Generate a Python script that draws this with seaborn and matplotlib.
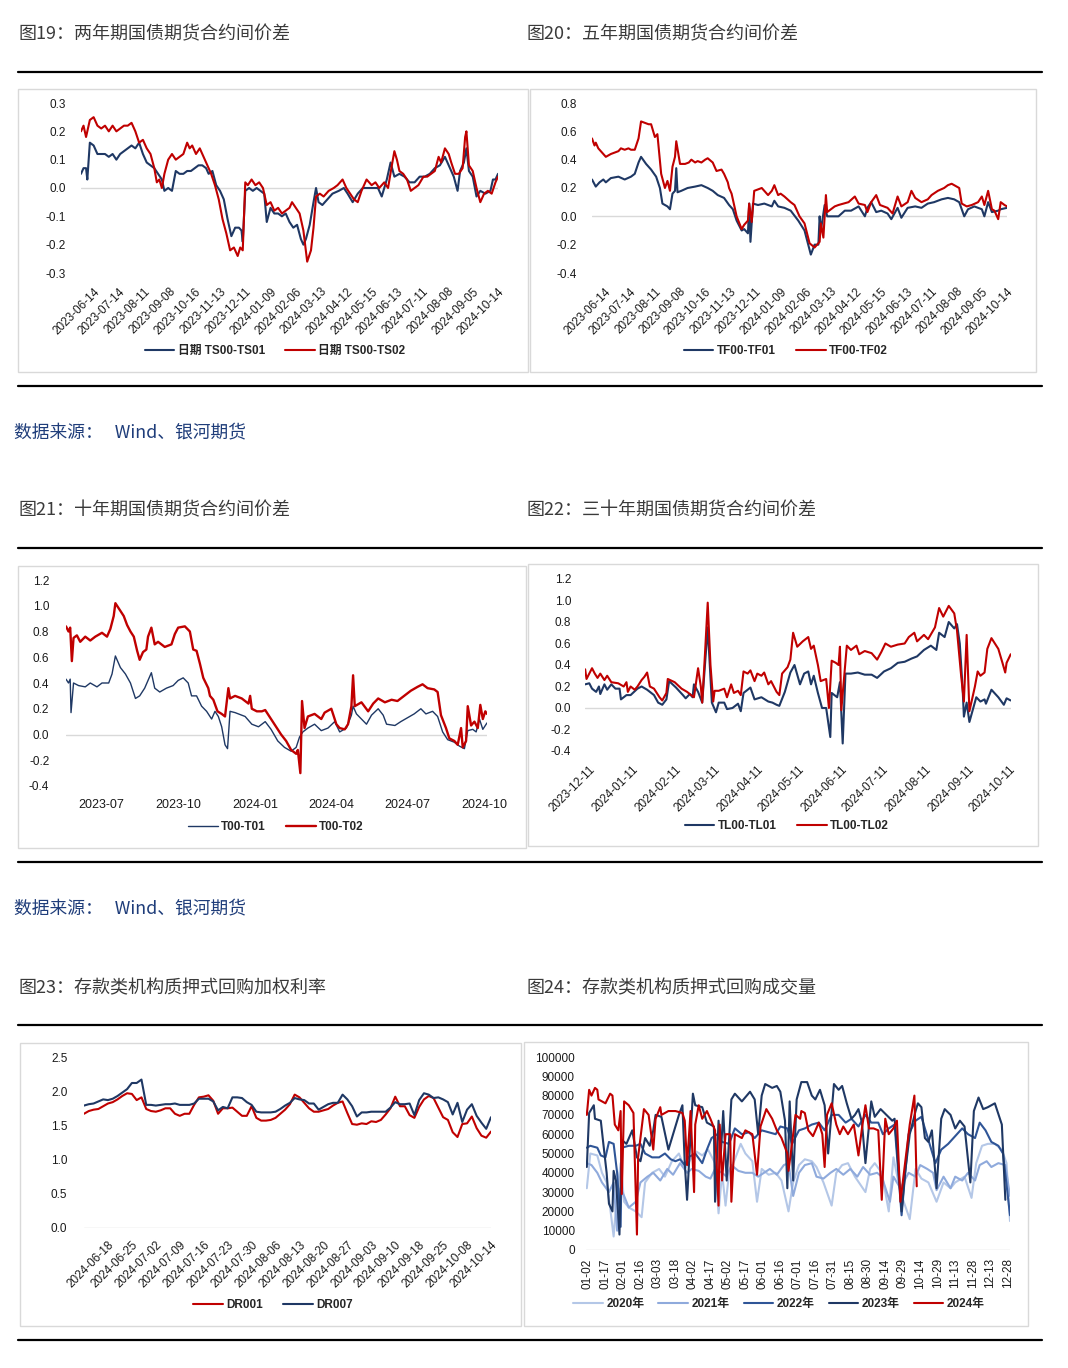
import matplotlib
matplotlib.use('Agg')
import matplotlib.pyplot as plt
from matplotlib.patches import Rectangle
from matplotlib.lines import Line2D
import seaborn as sns
import pandas as pd

W, H = 1068, 1368

# ---------------- data ----------------
# 图19 two-year spread, x = trading day index
ts_tick_labels = ['2023-06-14', '2023-07-14', '2023-08-11', '2023-09-08', '2023-10-16', '2023-11-13',
                  '2023-12-11', '2024-01-09', '2024-02-06', '2024-03-13', '2024-04-12', '2024-05-15',
                  '2024-06-13', '2024-07-11', '2024-08-08', '2024-09-05', '2024-10-14']
ts01_day = [0, 2, 4, 5, 7, 10, 13, 16, 19, 22,
            25, 28, 31, 34, 37, 40, 43, 46, 49, 52,
            55, 58, 61, 64, 66, 69, 72, 75, 78, 81,
            84, 87, 90, 93, 96, 99, 101, 104, 107, 110,
            113, 116, 119, 122, 125, 127, 128, 130, 133, 136,
            139, 142, 145, 147, 150, 153, 156, 159, 162, 165,
            168, 171, 174, 176, 178, 181, 184, 186, 188, 191,
            195, 199, 204, 208, 211, 215, 219, 223, 227, 231,
            235, 238, 242, 245, 248, 252, 256, 260, 264, 268,
            272, 276, 280, 284, 288, 291, 295, 298, 300, 303,
            305, 307, 310, 313, 316, 320, 324, 326, 328, 330]
ts01_val = [0.05, 0.07, 0.07, 0.03, 0.16, 0.15, 0.12, 0.12, 0.12, 0.11,
            0.12, 0.10, 0.12, 0.13, 0.14, 0.15, 0.14, 0.16, 0.12, 0.09,
            0.08, 0.07, 0.05, 0.03, -0.01, 0.00, -0.01, 0.06, 0.05, 0.05,
            0.06, 0.06, 0.07, 0.08, 0.08, 0.07, 0.05, 0.06, 0.01, -0.01,
            -0.04, -0.11, -0.17, -0.14, -0.14, -0.15, -0.19, -0.01, 0.00, -0.01,
            0.00, -0.01, -0.02, -0.12, -0.07, -0.09, -0.09, -0.10, -0.09, -0.12,
            -0.14, -0.13, -0.18, -0.20, -0.18, -0.13, -0.05, 0.00, -0.05, -0.06,
            -0.04, -0.02, -0.01, 0.00, -0.02, -0.05, -0.02, 0.00, 0.00, 0.00,
            0.00, -0.03, 0.03, 0.09, 0.04, 0.05, 0.04, 0.02, 0.02, 0.04,
            0.04, 0.05, 0.07, 0.08, 0.11, 0.08, 0.04, -0.01, 0.06, 0.09,
            0.14, 0.06, 0.04, -0.03, -0.01, -0.02, -0.01, 0.03, 0.03, 0.05]
ts02_day = [0, 2, 4, 7, 10, 13, 16, 19, 22, 25,
            28, 31, 34, 37, 40, 43, 46, 49, 52, 55,
            58, 60, 62, 64, 66, 69, 72, 75, 78, 81,
            84, 86, 88, 91, 94, 97, 100, 103, 106, 109,
            112, 115, 118, 121, 124, 126, 128, 130, 132, 135,
            138, 141, 144, 147, 150, 153, 156, 159, 162, 165,
            167, 170, 173, 176, 179, 182, 184, 186, 189, 192,
            196, 200, 203, 207, 210, 213, 216, 219, 222, 226,
            230, 233, 236, 240, 243, 246, 248, 250, 252, 255,
            258, 261, 264, 267, 271, 274, 277, 280, 283, 285,
            288, 291, 293, 296, 299, 302, 304, 305, 307, 310,
            313, 316, 319, 322, 325, 328, 330]
ts02_val = [0.20, 0.22, 0.18, 0.24, 0.25, 0.22, 0.21, 0.22, 0.20, 0.22,
            0.20, 0.21, 0.22, 0.22, 0.23, 0.20, 0.16, 0.17, 0.14, 0.12,
            0.07, 0.02, 0.03, 0.00, 0.05, 0.10, 0.12, 0.10, 0.11, 0.12,
            0.16, 0.14, 0.15, 0.12, 0.14, 0.11, 0.08, 0.05, 0.01, -0.04,
            -0.11, -0.16, -0.22, -0.21, -0.24, -0.21, -0.22, 0.02, 0.01, 0.03,
            0.01, 0.02, 0.00, -0.06, -0.05, -0.08, -0.07, -0.09, -0.08, -0.07,
            -0.05, -0.07, -0.09, -0.15, -0.26, -0.22, -0.14, -0.03, -0.02, -0.03,
            -0.01, 0.00, 0.01, 0.03, 0.00, -0.02, -0.04, -0.05, -0.01, 0.03,
            0.01, 0.02, 0.00, 0.02, 0.00, 0.08, 0.13, 0.10, 0.06, 0.05,
            0.03, -0.01, 0.00, 0.01, 0.04, 0.04, 0.05, 0.06, 0.11, 0.09,
            0.14, 0.12, 0.09, 0.05, 0.05, 0.07, 0.18, 0.20, 0.08, 0.06,
            0.00, -0.05, -0.02, -0.01, -0.02, 0.02, 0.04]

# 图20 five-year spread
tf_tick_labels = ts_tick_labels
tf01_day = [0, 3, 6, 9, 11, 15, 21, 26, 31, 34,
            37, 39, 43, 47, 51, 54, 56, 60, 62, 64,
            66, 67, 68, 71, 76, 82, 87, 92, 96, 100,
            105, 109, 112, 115, 119, 121, 124, 125, 126, 128,
            132, 137, 143, 145, 148, 153, 158, 164, 169, 174,
            177, 180, 181, 182, 185, 187, 190, 196, 201, 206,
            212, 217, 219, 222, 226, 230, 235, 238, 243, 246,
            251, 257, 262, 267, 272, 278, 283, 288, 292, 296,
            299, 304, 310, 312, 315, 318, 323, 325, 330]
tf01_val = [0.26, 0.21, 0.24, 0.26, 0.24, 0.27, 0.28, 0.26, 0.28, 0.30,
            0.38, 0.42, 0.37, 0.33, 0.28, 0.20, 0.09, 0.07, 0.05, 0.16,
            0.18, 0.34, 0.17, 0.18, 0.20, 0.21, 0.22, 0.20, 0.18, 0.15,
            0.13, 0.08, 0.05, -0.03, -0.10, -0.09, -0.12, 0.09, -0.18, 0.09,
            0.08, 0.09, 0.07, 0.11, 0.07, 0.06, 0.04, -0.03, -0.10, -0.27,
            -0.20, -0.20, 0.00, -0.10, 0.08, 0.00, 0.00, 0.00, 0.04, 0.04,
            0.07, 0.00, 0.06, 0.10, 0.03, 0.04, 0.02, -0.02, 0.06, -0.01,
            0.06, 0.07, 0.06, 0.09, 0.10, 0.12, 0.13, 0.12, 0.10, 0.00,
            0.05, 0.07, 0.05, 0.00, 0.10, 0.03, 0.04, 0.05, 0.06]
tf02_day = [0, 2, 3, 5, 7, 9, 11, 15, 18, 21,
            23, 26, 29, 31, 34, 37, 39, 42, 45, 47,
            50, 52, 55, 58, 60, 62, 64, 66, 67, 70,
            74, 77, 79, 82, 84, 87, 90, 92, 96, 99,
            103, 105, 108, 109, 111, 115, 119, 121, 124, 125,
            127, 129, 132, 135, 138, 140, 143, 145, 148, 150,
            153, 158, 161, 165, 169, 173, 177, 181, 182, 184,
            186, 187, 190, 193, 196, 200, 204, 209, 212, 217,
            219, 222, 226, 229, 232, 235, 239, 243, 246, 251,
            254, 257, 262, 267, 270, 275, 280, 283, 286, 288,
            292, 294, 298, 302, 307, 310, 312, 315, 318, 320,
            323, 325, 328, 330]
tf02_val = [0.55, 0.50, 0.52, 0.48, 0.46, 0.44, 0.42, 0.44, 0.45, 0.46,
            0.48, 0.47, 0.48, 0.47, 0.47, 0.55, 0.67, 0.66, 0.65, 0.65,
            0.56, 0.58, 0.30, 0.20, 0.25, 0.18, 0.35, 0.42, 0.53, 0.37,
            0.37, 0.38, 0.40, 0.38, 0.39, 0.38, 0.40, 0.41, 0.38, 0.32,
            0.33, 0.30, 0.24, 0.20, 0.16, 0.00, -0.09, -0.06, -0.03, 0.09,
            -0.04, 0.18, 0.19, 0.20, 0.17, 0.15, 0.18, 0.22, 0.15, 0.16,
            0.14, 0.10, 0.08, 0.00, -0.05, -0.19, -0.22, -0.18, -0.05, -0.15,
            0.15, 0.03, 0.05, 0.07, 0.08, 0.09, 0.10, 0.14, 0.09, 0.08,
            0.03, 0.10, 0.15, 0.08, 0.07, 0.06, 0.02, 0.14, 0.07, 0.10,
            0.18, 0.13, 0.10, 0.12, 0.15, 0.18, 0.20, 0.22, 0.23, 0.22,
            0.20, 0.09, 0.07, 0.08, 0.10, 0.14, 0.08, 0.18, 0.05, 0.04,
            -0.02, 0.10, 0.08, 0.07]

# 图21 ten-year spread, x = calendar days from 2023-07-01
t_tick_labels = ['2023-07', '2023-10', '2024-01', '2024-04', '2024-07', '2024-10']
t_tick_days = [0, 92, 184, 275, 366, 458]
t01_day = [-42, -39, -37, -36, -33, -27, -19, -13, -5, 1,
           9, 13, 17, 23, 29, 35, 41, 46, 52, 60,
           64, 70, 78, 86, 92, 98, 104, 108, 114, 120,
           126, 132, 136, 140, 144, 148, 151, 154, 160, 172,
           180, 188, 196, 203, 211, 219, 227, 233, 237, 241,
           247, 255, 263, 271, 279, 285, 293, 299, 301, 305,
           311, 317, 323, 331, 337, 341, 351, 358, 366, 374,
           382, 388, 396, 402, 408, 414, 422, 428, 434, 438,
           444, 448, 452, 456, 461]
t01_val = [0.43, 0.40, 0.43, 0.17, 0.40, 0.38, 0.37, 0.40, 0.37, 0.40,
           0.40, 0.47, 0.61, 0.52, 0.47, 0.40, 0.28, 0.30, 0.36, 0.48,
           0.36, 0.33, 0.36, 0.38, 0.42, 0.44, 0.40, 0.30, 0.30, 0.22,
           0.18, 0.12, 0.18, 0.14, 0.06, -0.08, -0.11, 0.18, 0.17, 0.14,
           0.08, 0.06, 0.10, 0.04, -0.05, -0.10, -0.13, -0.10, -0.02, 0.02,
           0.05, 0.08, 0.03, 0.05, 0.10, 0.02, 0.05, 0.15, 0.22, 0.16,
           0.12, 0.08, 0.15, 0.20, 0.15, 0.08, 0.07, 0.10, 0.13, 0.16,
           0.20, 0.16, 0.18, 0.14, 0.02, -0.04, -0.06, -0.09, -0.11, 0.03,
           0.04, 0.02, 0.12, 0.04, 0.09]
t02_day = [-42, -39, -37, -35, -33, -29, -25, -19, -13, -7,
           1, 7, 11, 15, 17, 21, 27, 31, 35, 39,
           43, 46, 50, 54, 56, 60, 64, 68, 76, 84,
           88, 92, 100, 106, 110, 114, 118, 122, 128, 130,
           134, 139, 144, 148, 152, 154, 160, 168, 176, 178,
           180, 186, 192, 196, 203, 207, 215, 221, 227, 233,
           235, 238, 240, 243, 247, 255, 263, 267, 275, 281,
           285, 291, 295, 299, 301, 303, 311, 319, 325, 331,
           339, 347, 354, 362, 370, 378, 384, 390, 398, 402,
           406, 412, 416, 422, 426, 430, 432, 436, 438, 442,
           446, 450, 453, 456, 459, 461]
t02_val = [0.84, 0.80, 0.83, 0.57, 0.75, 0.77, 0.72, 0.76, 0.73, 0.76,
           0.79, 0.76, 0.82, 0.92, 1.02, 0.98, 0.92, 0.85, 0.80, 0.76,
           0.65, 0.58, 0.64, 0.66, 0.76, 0.83, 0.70, 0.72, 0.68, 0.70,
           0.78, 0.83, 0.84, 0.80, 0.66, 0.65, 0.55, 0.44, 0.36, 0.30,
           0.27, 0.18, 0.16, 0.14, 0.36, 0.28, 0.30, 0.28, 0.24, 0.30,
           0.20, 0.18, 0.18, 0.19, 0.12, 0.08, 0.00, -0.05, -0.12, -0.15,
           -0.12, -0.30, 0.26, 0.05, 0.14, 0.16, 0.12, 0.17, 0.20, 0.08,
           0.05, 0.04, 0.08, 0.22, 0.46, 0.22, 0.25, 0.18, 0.24, 0.28,
           0.25, 0.27, 0.26, 0.30, 0.34, 0.37, 0.39, 0.36, 0.35, 0.33,
           0.15, 0.05, -0.03, -0.05, -0.08, 0.05, -0.10, -0.05, 0.22, 0.07,
           0.10, 0.05, 0.23, 0.12, 0.18, 0.16]

# 图22 thirty-year spread, x = calendar days from 2023-12-11
tl_tick_labels = ['2023-12-11', '2024-01-11', '2024-02-11', '2024-03-11', '2024-04-11', '2024-05-11',
                  '2024-06-11', '2024-07-11', '2024-08-11', '2024-09-11', '2024-10-11']
tl_tick_days = [0, 31, 62, 91, 122, 152, 183, 213, 244, 275, 305]
tl01_day = [-3, 0, 2, 5, 7, 8, 11, 13, 16, 19,
            22, 23, 27, 30, 35, 38, 42, 47, 50, 53,
            56, 58, 63, 68, 70, 73, 75, 76, 79, 82,
            86, 89, 92, 94, 98, 100, 104, 108, 110, 112,
            117, 120, 125, 130, 133, 136, 138, 142, 146, 149,
            153, 156, 159, 161, 163, 166, 169, 172, 175, 176,
            180, 182, 184, 186, 190, 195, 200, 205, 209, 214,
            219, 224, 229, 234, 238, 243, 248, 252, 254, 258,
            261, 265, 267, 269, 271, 272, 274, 276, 281, 284,
            287, 288, 292, 297, 301, 303, 306]
tl01_val = [0.22, 0.23, 0.18, 0.15, 0.20, 0.13, 0.22, 0.17, 0.22, 0.18,
            0.18, 0.08, 0.12, 0.12, 0.18, 0.20, 0.17, 0.12, 0.05, 0.03,
            0.08, 0.25, 0.19, 0.12, 0.09, 0.13, 0.10, 0.22, 0.15, 0.05,
            0.75, 0.05, -0.04, 0.05, 0.05, -0.01, 0.00, 0.04, -0.03, 0.14,
            0.19, 0.08, 0.10, 0.06, 0.05, 0.03, 0.02, 0.15, 0.33, 0.40,
            0.22, 0.32, 0.34, 0.22, 0.30, 0.14, 0.00, 0.00, -0.27, 0.14,
            0.10, 0.24, -0.33, 0.32, 0.32, 0.33, 0.31, 0.31, 0.28, 0.34,
            0.37, 0.42, 0.43, 0.46, 0.48, 0.54, 0.58, 0.54, 0.70, 0.66,
            0.80, 0.74, 0.78, 0.60, 0.20, -0.08, 0.05, -0.13, 0.10, 0.06,
            0.08, 0.04, 0.17, 0.10, 0.03, 0.09, 0.07]
tl02_day = [-3, -2, 0, 2, 4, 6, 8, 11, 13, 16,
            21, 25, 27, 28, 30, 33, 35, 38, 40, 42,
            44, 47, 51, 53, 56, 57, 62, 67, 71, 74,
            76, 79, 81, 82, 84, 86, 88, 90, 91, 94,
            98, 100, 103, 105, 108, 110, 112, 115, 117, 120,
            122, 125, 127, 130, 132, 136, 138, 140, 144, 146,
            148, 151, 155, 159, 161, 163, 166, 168, 172, 174,
            176, 179, 181, 182, 183, 187, 190, 194, 196, 200,
            205, 209, 212, 215, 219, 224, 229, 232, 236, 238,
            243, 246, 251, 254, 257, 261, 265, 267, 270, 272,
            274, 276, 280, 282, 284, 287, 289, 292, 297, 300,
            302, 303, 306]
tl02_val = [0.36, 0.27, 0.32, 0.37, 0.32, 0.28, 0.32, 0.26, 0.30, 0.24,
            0.23, 0.20, 0.24, 0.15, 0.20, 0.17, 0.20, 0.26, 0.29, 0.33,
            0.20, 0.18, 0.10, 0.07, 0.14, 0.27, 0.24, 0.18, 0.15, 0.12,
            0.10, 0.37, 0.20, 0.05, 0.50, 0.98, 0.40, 0.06, 0.16, 0.16,
            0.18, 0.10, 0.22, 0.14, 0.16, 0.12, 0.34, 0.32, 0.35, 0.25,
            0.32, 0.30, 0.33, 0.22, 0.25, 0.15, 0.12, 0.32, 0.38, 0.45,
            0.70, 0.57, 0.62, 0.66, 0.55, 0.58, 0.40, 0.25, 0.27, 0.00,
            0.44, 0.42, 0.40, 0.57, -0.02, 0.58, 0.54, 0.58, 0.50, 0.53,
            0.51, 0.45, 0.52, 0.60, 0.57, 0.59, 0.60, 0.66, 0.70, 0.62,
            0.68, 0.64, 0.75, 0.93, 0.85, 0.95, 0.88, 0.72, 0.30, 0.06,
            0.68, -0.03, 0.20, 0.34, 0.30, 0.33, 0.55, 0.65, 0.55, 0.42,
            0.33, 0.42, 0.50]

# 图23 DR001 / DR007, one value per trading day
dr_tick_labels = ['2024-06-18', '2024-06-25', '2024-07-02', '2024-07-09', '2024-07-16', '2024-07-23',
                  '2024-07-30', '2024-08-06', '2024-08-13', '2024-08-20', '2024-08-27', '2024-09-03',
                  '2024-09-10', '2024-09-18', '2024-09-25', '2024-10-08', '2024-10-14']
dr001 = [1.67, 1.71, 1.73, 1.74, 1.78, 1.82, 1.84, 1.88, 1.93, 1.97,
         1.96, 1.87, 1.91, 1.74, 1.71, 1.70, 1.72, 1.75, 1.75, 1.67,
         1.64, 1.67, 1.67, 1.80, 1.91, 1.92, 1.94, 1.86, 1.67, 1.75,
         1.75, 1.76, 1.70, 1.64, 1.64, 1.78, 1.61, 1.57, 1.57, 1.58,
         1.61, 1.67, 1.73, 1.81, 1.95, 1.91, 1.83, 1.75, 1.70, 1.70,
         1.72, 1.74, 1.79, 1.83, 1.85, 1.68, 1.52, 1.51, 1.53, 1.52,
         1.56, 1.55, 1.58, 1.66, 1.75, 1.92, 1.78, 1.78, 1.65, 1.61,
         1.77, 1.88, 1.93, 1.90, 1.76, 1.62, 1.58, 1.40, 1.33, 1.52,
         1.53, 1.63, 1.46, 1.35, 1.32, 1.41]
dr007 = [1.79, 1.81, 1.82, 1.85, 1.88, 1.87, 1.89, 1.93, 1.98, 2.03,
         2.12, 2.12, 2.17, 1.80, 1.80, 1.79, 1.80, 1.81, 1.81, 1.82,
         1.80, 1.80, 1.80, 1.82, 1.89, 1.89, 1.89, 1.85, 1.72, 1.77,
         1.75, 1.91, 1.91, 1.90, 1.84, 1.80, 1.70, 1.69, 1.69, 1.69,
         1.70, 1.74, 1.79, 1.83, 1.90, 1.88, 1.87, 1.82, 1.82, 1.73,
         1.77, 1.81, 1.83, 1.83, 1.95, 1.88, 1.78, 1.63, 1.69, 1.69,
         1.70, 1.70, 1.70, 1.70, 1.76, 1.84, 1.81, 1.81, 1.82, 1.65,
         1.87, 1.97, 1.95, 1.90, 1.91, 1.88, 1.84, 1.66, 1.83, 1.55,
         1.73, 1.81, 1.64, 1.54, 1.45, 1.62]

# 图24 volume by year, x = day of year
vol_tick_labels = ['01-02', '01-17', '02-01', '02-16', '03-03', '03-18', '04-02', '04-17', '05-02',
                   '05-17', '06-01', '06-16', '07-01', '07-16', '07-31', '08-15', '08-30', '09-14',
                   '09-29', '10-14', '10-29', '11-13', '11-28', '12-13', '12-28']
v2020_day = [1, 4, 10, 14, 18, 21, 24, 27, 30, 33,
             37, 43, 48, 51, 57, 63, 68, 74, 80, 85,
             91, 95, 100, 105, 111, 114, 117, 120, 123, 128,
             133, 137, 143, 147, 151, 157, 163, 168, 174, 178,
             183, 188, 194, 198, 204, 211, 215, 220, 225, 231,
             240, 244, 248, 254, 260, 264, 270, 274, 278, 283,
             288, 294, 301, 307, 313, 317, 325, 331, 335, 340,
             345, 351, 357, 361, 364]
v2020_val = [32000, 50000, 49000, 40000, 35000, 22000, 7000, 30000, 45000, 25000,
             22000, 20000, 17000, 35000, 40000, 42000, 38000, 46000, 50000, 42000,
             48000, 51000, 49000, 52000, 45000, 19000, 40000, 23000, 40000, 47000,
             55000, 50000, 46000, 25000, 42000, 39000, 40000, 36000, 20000, 35000,
             44000, 47000, 46000, 43000, 35000, 23000, 40000, 44000, 45000, 38000,
             30000, 42000, 45000, 40000, 20000, 48000, 30000, 23000, 16000, 42000,
             37000, 35000, 25000, 35000, 32000, 35000, 38000, 27000, 45000, 54000,
             55000, 55000, 52000, 45000, 15000]
v2021_day = [1, 5, 10, 14, 20, 24, 27, 30, 33, 37,
             43, 47, 53, 58, 64, 70, 75, 81, 87, 91,
             97, 103, 107, 111, 117, 121, 125, 131, 137, 143,
             148, 153, 158, 164, 170, 174, 178, 183, 188, 194,
             198, 204, 210, 215, 221, 227, 233, 238, 244, 250,
             254, 261, 264, 270, 277, 283, 287, 293, 298, 301,
             307, 313, 317, 323, 328, 334, 338, 344, 348, 354,
             360, 364]
v2021_val = [45000, 44000, 40000, 35000, 30000, 35000, 10000, 32000, 28000, 22000,
             25000, 35000, 38000, 40000, 36000, 42000, 39000, 45000, 40000, 42000,
             41000, 38000, 37000, 42000, 40000, 38000, 44000, 41000, 40000, 40000,
             38000, 40000, 42000, 39000, 44000, 45000, 28000, 40000, 44000, 45000,
             38000, 37000, 40000, 42000, 39000, 42000, 38000, 43000, 39000, 40000,
             38000, 25000, 38000, 32000, 40000, 38000, 44000, 42000, 40000, 31000,
             38000, 32000, 38000, 36000, 40000, 36000, 44000, 46000, 43000, 45000,
             44000, 28000]
v2022_day = [1, 4, 10, 13, 17, 20, 24, 27, 30, 31,
             37, 43, 47, 51, 57, 63, 68, 73, 77, 81,
             85, 88, 94, 100, 104, 108, 113, 117, 123, 128,
             134, 140, 145, 151, 157, 163, 167, 173, 177, 183,
             188, 194, 200, 205, 211, 217, 223, 228, 234, 240,
             245, 251, 255, 260, 265, 271, 277, 283, 288, 293,
             300, 305, 311, 317, 323, 328, 334, 338, 343, 348,
             354, 358, 364]
v2022_val = [53000, 54000, 53000, 49000, 48000, 56000, 55000, 40000, 12000, 53000,
             54000, 54000, 55000, 50000, 48000, 48000, 50000, 47000, 46000, 47000,
             44000, 48000, 50000, 45000, 52000, 58000, 60000, 56000, 55000, 63000,
             60000, 61000, 58000, 62000, 61000, 60000, 64000, 63000, 55000, 62000,
             63000, 65000, 66000, 62000, 70000, 70000, 66000, 68000, 64000, 70000,
             66000, 66000, 60000, 63000, 65000, 18000, 60000, 67000, 69000, 59000,
             45000, 52000, 55000, 59000, 63000, 60000, 58000, 66000, 62000, 56000,
             54000, 50000, 18000]
v2023_day = [1, 3, 7, 8, 13, 15, 18, 20, 23, 24,
             26, 29, 31, 35, 40, 44, 47, 51, 55, 58,
             60, 65, 71, 75, 80, 83, 85, 87, 90, 92,
             94, 100, 104, 110, 111, 114, 116, 118, 121, 125,
             128, 134, 141, 145, 148, 151, 154, 160, 164, 167,
             171, 173, 175, 178, 181, 185, 190, 194, 197, 201,
             205, 208, 213, 217, 220, 224, 228, 231, 234, 237,
             240, 245, 248, 253, 258, 263, 265, 268, 271, 274,
             278, 283, 285, 288, 291, 294, 297, 301, 305, 308,
             313, 317, 321, 325, 330, 333, 337, 341, 345, 351,
             357, 360]
v2023_val = [43000, 71000, 75000, 68000, 67000, 56000, 40000, 24000, 20000, 41000,
             36000, 8000, 57000, 55000, 62000, 48000, 46000, 58000, 54000, 62000,
             70000, 69000, 52000, 60000, 70000, 75000, 45000, 26000, 60000, 81000,
             75000, 74000, 66000, 64000, 25000, 67000, 50000, 72000, 36000, 78000,
             81000, 77000, 82000, 78000, 60000, 80000, 86000, 84000, 85000, 82000,
             67000, 32000, 77000, 36000, 78000, 87000, 87000, 80000, 78000, 83000,
             75000, 50000, 86000, 83000, 85000, 76000, 68000, 70000, 73000, 66000,
             45000, 77000, 69000, 73000, 70000, 67000, 68000, 45000, 20000, 40000,
             60000, 72000, 76000, 74000, 58000, 56000, 62000, 32000, 68000, 73000,
             70000, 63000, 67000, 64000, 35000, 72000, 79000, 73000, 74000, 76000,
             65000, 26000]
v2024_day = [1, 3, 5, 8, 10, 11, 14, 17, 21, 23,
             25, 28, 30, 31, 33, 37, 41, 44, 45, 50,
             54, 58, 60, 64, 65, 71, 77, 83, 85, 87,
             90, 93, 94, 97, 100, 104, 107, 111, 114, 115,
             117, 120, 124, 125, 128, 134, 137, 143, 147, 150,
             155, 160, 164, 168, 173, 174, 177, 180, 184, 185,
             188, 191, 195, 200, 203, 205, 207, 211, 215, 218,
             221, 225, 230, 234, 237, 240, 243, 247, 251, 254,
             257, 260, 264, 267, 270, 274, 278, 282, 284]
v2024_val = [70000, 83000, 80000, 84000, 83000, 78000, 77000, 76000, 81000, 80000,
             65000, 62000, 72000, 29000, 77000, 75000, 71000, 8000, 48000, 73000,
             70000, 52000, 68000, 74000, 70000, 72000, 72000, 71000, 67000, 44000,
             72000, 30000, 65000, 75000, 68000, 72000, 68000, 62000, 23000, 65000,
             36000, 60000, 60000, 25000, 60000, 58000, 62000, 60000, 39000, 64000,
             73000, 68000, 62000, 58000, 50000, 41000, 55000, 70000, 68000, 72000,
             71000, 62000, 59000, 66000, 60000, 43000, 70000, 76000, 65000, 60000,
             64000, 60000, 65000, 49000, 63000, 75000, 63000, 63000, 62000, 26000,
             68000, 60000, 63000, 67000, 25000, 45000, 65000, 80000, 33000]

titles = ['图19：两年期国债期货合约间价差', '图20：五年期国债期货合约间价差',
          '图21：十年期国债期货合约间价差', '图22：三十年期国债期货合约间价差',
          '图23：存款类机构质押式回购加权利率', '图24：存款类机构质押式回购成交量']
source_text = '数据来源：   Wind、银河期货'

NAVY = '#1f3864'
RED = '#c00000'

# ---------------- figure ----------------
sns.set_theme(style='white')
plt.rcParams['font.family'] = ['Liberation Sans', 'Noto Sans CJK SC', 'DejaVu Sans']

fig = plt.figure(figsize=(W / 100, H / 100), dpi=100)


def px_axes(l, t, r, b):
    return fig.add_axes([l / W, 1 - b / H, (r - l) / W, (b - t) / H])


def draw_line(ax, days, vals, color, lw, label):
    df = pd.DataFrame({'day': days, 'value': vals})
    sns.lineplot(data=df, x='day', y='value', ax=ax, color=color, linewidth=lw,
                 label=label, estimator=None, sort=False, solid_joinstyle='round')


def style_axes(ax, xlim, ylim, yticks, yfmt, ypad):
    ax.set_xlim(*xlim)
    ax.set_ylim(*ylim)
    ax.axhline(0, color='#d9d9d9', lw=1.0, zorder=0)
    ax.set_yticks(yticks)
    ax.set_yticklabels([yfmt.format(t) for t in yticks])
    for s in ax.spines.values():
        s.set_visible(False)
    ax.tick_params(length=0, labelsize=8.5, labelcolor='#1a1a1a')
    ax.tick_params(axis='y', pad=ypad)
    ax.set_xlabel('')
    ax.set_ylabel('')
    ax.patch.set_alpha(0)
    ax.grid(False)
    if ax.get_legend() is not None:
        ax.get_legend().remove()


def add_legend(ax, cx, cy, ncol, colspace=1.7):
    h, l = ax.get_legend_handles_labels()
    fig.legend(h, l, loc='center', bbox_to_anchor=(cx / W, 1 - cy / H), ncol=ncol,
               frameon=False, handlelength=2.5, handletextpad=0.3, columnspacing=colspace,
               prop={'weight': 'bold', 'size': 8.5})


def rotated_xticks(ax, ticks, labels, pad):
    ax.set_xticks(ticks)
    ax.set_xticklabels(labels, rotation=45, ha='right', rotation_mode='anchor')
    ax.tick_params(axis='x', pad=pad)


# page furniture
for y in [72, 386, 548, 862, 1025, 1340]:
    fig.add_artist(Line2D([18 / W, 1042 / W], [1 - y / H, 1 - y / H], color='black', lw=1.6))
for (l, t, r, b) in [(18, 89, 528, 372), (530, 89, 1036, 372), (18, 566, 526, 848),
                     (528, 564, 1038, 846), (20, 1043, 521, 1326), (524, 1042, 1028, 1326)]:
    fig.add_artist(Rectangle((l / W, 1 - b / H), (r - l) / W, (b - t) / H, transform=fig.transFigure,
                             fill=False, edgecolor='#d9d9d9', lw=1.0))
for txt, (x, y) in zip(titles, [(18, 34), (526, 34), (18, 510), (526, 510), (18, 988), (526, 988)]):
    fig.text(x / W, 1 - y / H, txt, fontsize=13, color='#3a3a3a', va='center', ha='left',
             family=['Noto Sans CJK SC'])
for y in [432, 908]:
    fig.text(14 / W, 1 - y / H, source_text, fontsize=12.8, color='#1f3d7a', va='center', ha='left',
             family=['Noto Sans CJK SC'])

# 图19
ax1 = px_axes(81, 103, 498, 273)
draw_line(ax1, ts01_day, ts01_val, NAVY, 1.5, '日期 TS00-TS01')
draw_line(ax1, ts02_day, ts02_val, RED, 1.5, '日期 TS00-TS02')
style_axes(ax1, (0, 330), (-0.3, 0.3), [0.3, 0.2, 0.1, 0.0, -0.1, -0.2, -0.3], '{:.1f}', 11)
rotated_xticks(ax1, list(range(10, 331, 20)), ts_tick_labels, 9)
add_legend(ax1, 275, 351, 2)

# 图20
ax2 = px_axes(592, 103, 1007, 273)
draw_line(ax2, tf01_day, tf01_val, NAVY, 1.5, 'TF00-TF01')
draw_line(ax2, tf02_day, tf02_val, RED, 1.5, 'TF00-TF02')
style_axes(ax2, (0, 330), (-0.4, 0.8), [0.8, 0.6, 0.4, 0.2, 0.0, -0.2, -0.4], '{:.1f}', 11)
rotated_xticks(ax2, list(range(10, 331, 20)), tf_tick_labels, 9)
add_legend(ax2, 786, 351, 2)

# 图21
ax3 = px_axes(66, 580, 487, 786)
draw_line(ax3, t01_day, t01_val, NAVY, 1.0, 'T00-T01')
draw_line(ax3, t02_day, t02_val, RED, 1.7, 'T00-T02')
style_axes(ax3, (-42, 461), (-0.4, 1.2), [1.2, 1.0, 0.8, 0.6, 0.4, 0.2, 0.0, -0.2, -0.4], '{:.1f}', 12)
ax3.set_xticks(t_tick_days)
ax3.set_xticklabels(t_tick_labels)
ax3.tick_params(axis='x', pad=9, labelsize=9)
add_legend(ax3, 276, 827, 2)

# 图22
ax4 = px_axes(585, 579, 1011, 751)
draw_line(ax4, tl01_day, tl01_val, NAVY, 1.5, 'TL00-TL01')
draw_line(ax4, tl02_day, tl02_val, RED, 1.5, 'TL00-TL02')
style_axes(ax4, (-3.1, 306.2), (-0.4, 1.2), [1.2, 1.0, 0.8, 0.6, 0.4, 0.2, 0.0, -0.2, -0.4], '{:.1f}', 10)
rotated_xticks(ax4, tl_tick_days, tl_tick_labels, 9)
add_legend(ax4, 787, 826, 2)

# 图23
ax5 = px_axes(84, 1057, 491, 1228)
dr_days = list(range(len(dr001)))
draw_line(ax5, dr_days, dr001, RED, 1.5, 'DR001')
draw_line(ax5, dr_days, dr007, NAVY, 1.5, 'DR007')
style_axes(ax5, (0, 85), (0, 2.5), [2.5, 2.0, 1.5, 1.0, 0.5, 0.0], '{:.1f}', 12)
rotated_xticks(ax5, list(range(5, 86, 5)), dr_tick_labels, 8)
add_legend(ax5, 273, 1305, 2)

# 图24
ax6 = px_axes(586, 1057, 1010, 1250)
draw_line(ax6, v2020_day, v2020_val, '#b4c7e7', 1.5, '2020年')
draw_line(ax6, v2021_day, v2021_val, '#8faadc', 1.5, '2021年')
draw_line(ax6, v2022_day, v2022_val, '#2f5597', 1.5, '2022年')
draw_line(ax6, v2023_day, v2023_val, NAVY, 1.5, '2023年')
draw_line(ax6, v2024_day, v2024_val, RED, 1.5, '2024年')
style_axes(ax6, (0.3, 364), (0, 100000), list(range(0, 100001, 10000)), '{:d}', 8)
ax6.set_xticks(list(range(2, 363, 15)))
ax6.set_xticklabels(vol_tick_labels, rotation=90, ha='center', va='top')
ax6.tick_params(axis='x', pad=6)
add_legend(ax6, 779, 1304, 5, colspace=1.2)

fig.savefig('out.png', dpi=100)
